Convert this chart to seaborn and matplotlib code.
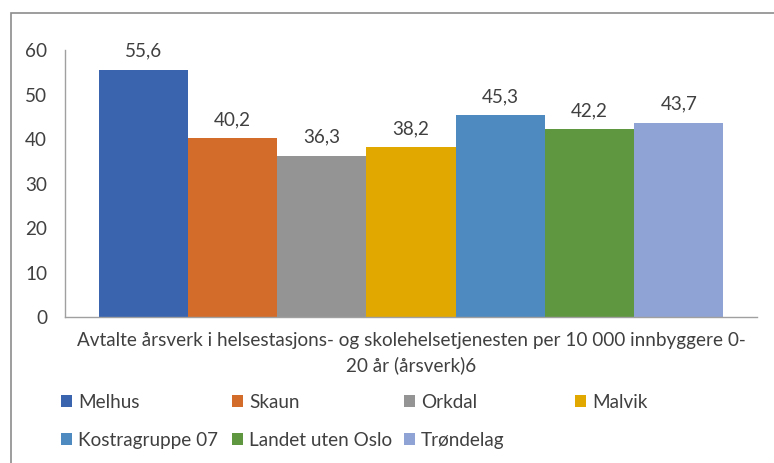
import pandas as pd
import seaborn as sns
import matplotlib.pyplot as plt
from matplotlib.patches import Rectangle

category = "Avtalte årsverk i helsestasjons- og skolehelsetjenesten per 10 000 innbyggere 0-\n20 år (årsverk)6"
regions = ["Melhus", "Skaun", "Orkdal", "Malvik", "Kostragruppe 07", "Landet uten Oslo", "Trøndelag"]
values = [55.6, 40.2, 36.3, 38.2, 45.3, 42.2, 43.7]
colors = ["#3A64AE", "#D36B2B", "#949494", "#E1A800", "#4E8ABF", "#5F9640", "#8FA3D4"]

df = pd.DataFrame({"cat": [category] * len(regions), "region": regions, "value": values})

sns.set_style("white")
plt.rcParams["font.family"] = ["Lato", "DejaVu Sans"]
plt.rcParams["text.color"] = "#404040"

fs = 13.6

fig = plt.figure(figsize=(7.74, 4.63), dpi=100)
ax = fig.add_axes([0.084, 0.315, 0.894, 0.577])

sns.barplot(data=df, x="cat", y="value", hue="region", hue_order=regions,
            palette=colors, width=0.903, saturation=1, linewidth=0, legend=False, ax=ax)

for cont in ax.containers:
    ax.bar_label(cont, labels=[f"{v:.1f}".replace(".", ",") for v in cont.datavalues],
                 padding=7, fontsize=fs, color="#404040")

ax.set_ylim(0, 60)
ax.set_xlim(-0.5, 0.5)
ax.set_yticks([0, 10, 20, 30, 40, 50, 60])
ax.set_xlabel("")
ax.set_ylabel("")
ax.tick_params(axis="y", length=0, pad=13, labelsize=fs, labelcolor="#404040")
ax.tick_params(axis="x", length=0, pad=11, labelsize=fs, labelcolor="#404040")
for lab in ax.get_xticklabels():
    lab.set_linespacing(1.45)
for s in ["top", "right"]:
    ax.spines[s].set_visible(False)
for s in ["left", "bottom"]:
    ax.spines[s].set_color("#a0a0a0")
    ax.spines[s].set_linewidth(1)

# legend: one small legend per column so columns are evenly spaced
handles = [c.patches[0] for c in ax.containers]
col_x = [61, 232, 404, 575]
for i, x in enumerate(col_x):
    hs = handles[i::4]
    ls = regions[i::4]
    fig.legend(hs, ls, loc="upper left", bbox_to_anchor=(x / 774, 1 - 394 / 463),
               frameon=False, fontsize=fs, handlelength=0.6, handleheight=0.6,
               handletextpad=0.3, labelspacing=1.1, borderpad=0, borderaxespad=0)

fig.patches.append(Rectangle((11 / 774, -0.05), 1.2, 1 - 13 / 463 + 0.05,
                             transform=fig.transFigure, fill=False,
                             edgecolor="#8c8c8c", linewidth=1.2))

fig.savefig("out.png", dpi=100)
